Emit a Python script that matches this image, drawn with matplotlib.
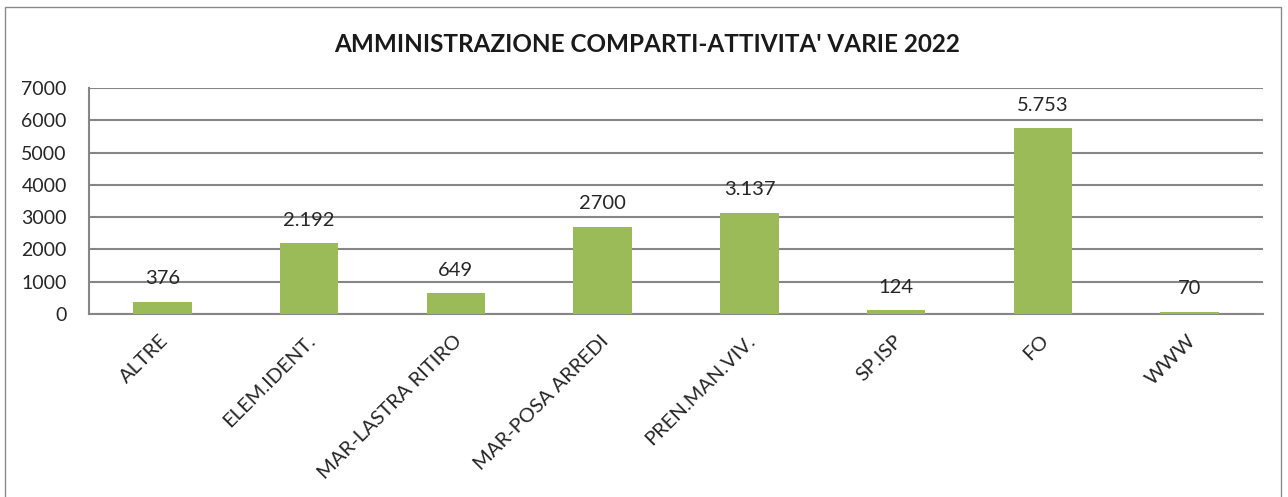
import numpy as np
import matplotlib.pyplot as plt
from matplotlib.patches import Rectangle

plt.rcParams['font.family'] = ['Lato', 'DejaVu Sans']

# data
categories = ["ALTRE", "ELEM.IDENT.", "MAR-LASTRA RITIRO", "MAR-POSA ARREDI",
              "PREN.MAN.VIV.", "SP.ISP", "FO", "WWW"]
values = [376, 2192, 649, 2700, 3137, 124, 5753, 70]
value_labels = ["376", "2.192", "649", "2700", "3.137", "124", "5.753", "70"]
yticks = [0, 1000, 2000, 3000, 4000, 5000, 6000, 7000]

fig = plt.figure(figsize=(12.88, 4.97), dpi=100)
ax = fig.add_axes([0.0691, 0.3682, 0.9115, 0.4547])

x = np.arange(len(categories))
ax.bar(x, values, width=0.4, color='#9BBB59', zorder=3)

# value labels above bars, fixed offset in pixels
for xi, v, lab in zip(x, values, value_labels):
    ax.annotate(lab, (xi, v), xytext=(0, 23), textcoords='offset pixels',
                ha='center', va='center', fontsize=14.5, color='#262626', zorder=4)

ax.set_xlim(-0.5, len(categories) - 0.5)
ax.set_ylim(0, 7000)
ax.set_yticks(yticks)
ax.set_yticklabels([str(t) for t in yticks], fontsize=14, color='#262626')
ax.yaxis.grid(True, color='#868686', linewidth=1.5, zorder=0)
ax.set_axisbelow(True)

# category labels, rotated like the spreadsheet chart
ax.set_xticks(x)
ax.set_xticklabels([])
for xi, cat in zip(x, categories):
    ax.annotate(cat, (xi, 0), xycoords=('data', 'axes fraction'),
                xytext=(3, -24), textcoords='offset pixels',
                rotation=45, ha='right', va='center', rotation_mode='anchor',
                fontsize=14.5, color='#262626', annotation_clip=False)

ax.tick_params(axis='both', length=0)
ax.tick_params(axis='y', pad=16)
for side in ['top', 'right']:
    ax.spines[side].set_visible(False)
for side in ['left', 'bottom']:
    ax.spines[side].set_color('#868686')
    ax.spines[side].set_linewidth(1.5)

fig.text(0.5025, 0.911, "AMMINISTRAZIONE COMPARTI-ATTIVITA' VARIE 2022",
         ha='center', va='center', fontsize=17.5, fontweight='bold', color='#1a1a1a')

# outer chart border
fig.patches.append(Rectangle((5 / 1288, -0.05), 1276 / 1288, 1 - 7 / 497 + 0.05,
                             transform=fig.transFigure, fill=False,
                             edgecolor='#8a8a8a', linewidth=1.0))

fig.savefig("out.png", dpi=100)
